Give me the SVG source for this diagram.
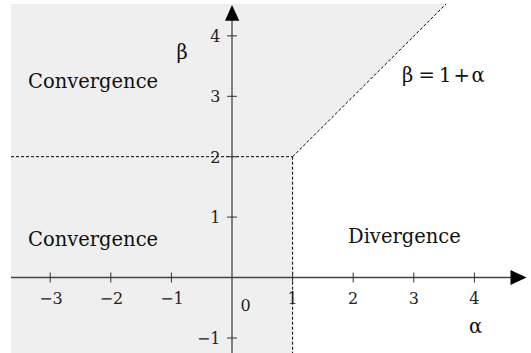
<svg xmlns="http://www.w3.org/2000/svg" width="531" height="353" viewBox="0 0 531 353">
<defs>
<style>
.lbl{font-family:"DejaVu Serif","Liberation Serif",serif;font-size:19.5px;fill:#111}
.tk{font-family:"DejaVu Serif","Liberation Serif",serif;font-size:16px;fill:#222}
.axis{stroke:#444;stroke-width:1.3;fill:none}
.tick{stroke:#333;stroke-width:1;fill:none}
.dash{stroke:#000;stroke-width:1;stroke-dasharray:3,2;fill:none}
</style>
</defs>
<rect width="531" height="353" fill="#fff"/>
<g id="region-convergence">
<polygon points="11,4 446,4 292.6,156.7 292.6,353 11,353" fill="#efefef"/>
</g>
<g id="connectors">
<line class="dash" x1="11" y1="156.7" x2="292.6" y2="156.7"/>
<line class="dash" x1="292.6" y1="156.7" x2="292.6" y2="353"/>
<line class="dash" x1="292.6" y1="156.7" x2="446" y2="4"/>
<line class="axis" x1="11" y1="277.5" x2="512" y2="277.5"/>
<polygon points="526.5,277.5 510.5,270 510.5,285" fill="#000"/>
<line class="axis" x1="232" y1="353" x2="232" y2="20"/>
<polygon points="232,5 225,20.7 239.3,20.7" fill="#000"/>
<g class="tick">
<line x1="50.2" y1="272.5" x2="50.2" y2="282.5"/>
<line x1="110.8" y1="272.5" x2="110.8" y2="282.5"/>
<line x1="171.4" y1="272.5" x2="171.4" y2="282.5"/>
<line x1="292.6" y1="272.5" x2="292.6" y2="282.5"/>
<line x1="353.2" y1="272.5" x2="353.2" y2="282.5"/>
<line x1="413.8" y1="272.5" x2="413.8" y2="282.5"/>
<line x1="474.4" y1="272.5" x2="474.4" y2="282.5"/>
<line x1="227" y1="338" x2="237" y2="338"/>
<line x1="227" y1="217.1" x2="237" y2="217.1"/>
<line x1="227" y1="156.7" x2="237" y2="156.7"/>
<line x1="227" y1="96.3" x2="237" y2="96.3"/>
<line x1="227" y1="35.9" x2="237" y2="35.9"/>
</g>
</g>
<g id="x-ticks" class="tk" text-anchor="middle">
<text x="51" y="304">−3</text>
<text x="111.5" y="304">−2</text>
<text x="172" y="304">−1</text>
<text x="292.6" y="304">1</text>
<text x="353.2" y="304">2</text>
<text x="413.8" y="304">3</text>
<text x="474.4" y="304">4</text>
</g>
<g id="y-ticks" class="tk" text-anchor="end">
<text x="220.5" y="344">−1</text>
<text x="220.5" y="223">1</text>
<text x="220.5" y="162.5">2</text>
<text x="220.5" y="102">3</text>
<text x="220.5" y="41.8">4</text>
</g>
<g id="origin"><text class="tk" x="240.5" y="310.5">0</text></g>
<g id="label-conv-top"><text class="lbl" x="28" y="88.3">Convergence</text></g>
<g id="label-conv-bottom"><text class="lbl" x="28" y="246">Convergence</text></g>
<g id="label-div"><text class="lbl" x="348" y="243.3">Divergence</text></g>
<g id="label-eq"><text class="lbl" y="82"><tspan x="402">β</tspan><tspan x="418.5">=</tspan><tspan x="439">1</tspan><tspan x="453.5">+</tspan><tspan x="471.5">α</tspan></text></g>
<g id="label-beta"><text class="lbl" x="176.5" y="59" font-size="21px">β</text></g>
<g id="label-alpha"><text class="lbl" x="469" y="333">α</text></g>
</svg>
